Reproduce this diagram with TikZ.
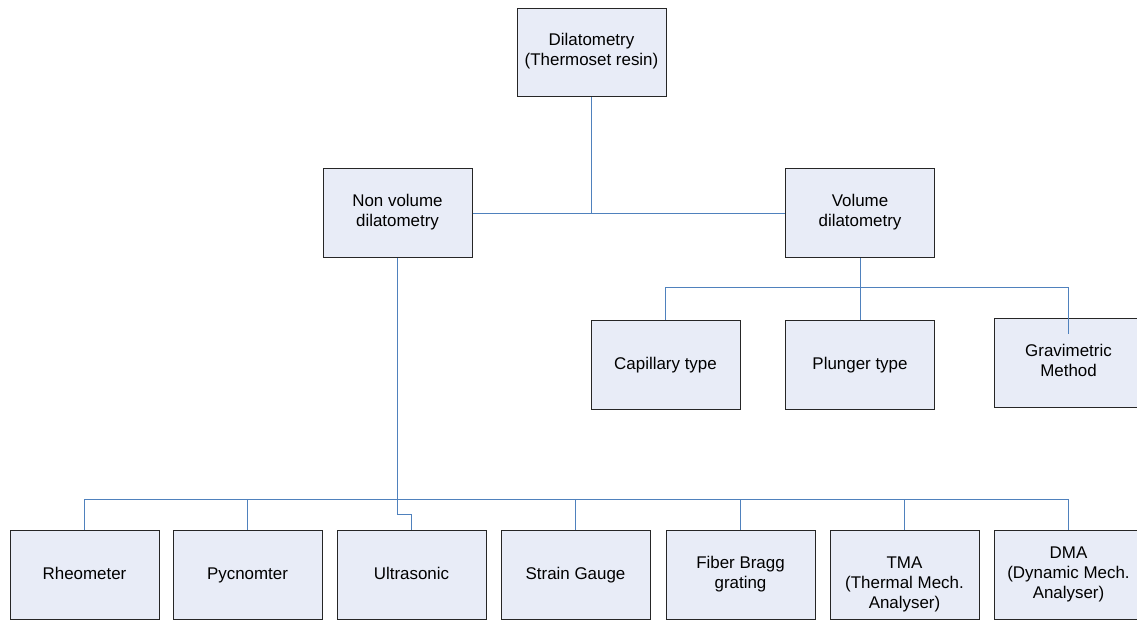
\documentclass[tikz,border=0pt]{standalone}
\usepackage{fontspec}
\setmainfont{Liberation Sans}
\usetikzlibrary{calc}
\definecolor{boxfill}{RGB}{232,236,247}
\definecolor{linkblue}{RGB}{79,129,189}
\tikzset{method/.style={rectangle,fill=boxfill,draw=black!85,line width=0.75pt,
minimum width=111.75pt, minimum height=67pt,inner sep=2pt,align=center,anchor=north,
font=\fontsize{12.7}{15}\selectfont,execute at begin node=\strut},
link/.style={color=linkblue,line width=0.75pt}}

\begin{document}
\begin{tikzpicture}[x=0.75pt,y=-0.75pt]
  \useasboundingbox (0,0) rectangle (1137,619);
  \node (top) [method,minimum height=66pt] at (591.5,8) {Dilatometry\\(Thermoset resin)};
  \node (nonvol) [method] at (397.5,168) {Non volume\\dilatometry};
  \node (vol) [method] at (860,168) {Volume\\dilatometry};
  \node (cap) [method] at (665.5,320) {Capillary type};
  \node (plu) [method] at (860,320) {Plunger type};
  \node (grav) [method] at (1068.5,318) {Gravimetric\\Method};
  \node (rheo) [method] at (84.5,530) {Rheometer};
  \node (pyc) [method] at (247.5,530) {Pycnomter};
  \node (ult) [method] at (411.5,530) {Ultrasonic};
  \node (sg) [method] at (575.5,530) {Strain Gauge};
  \node (fbg) [method] at (740.5,530) {Fiber Bragg\\grating};
  \node (tma) [method] at (904.5,530) {\rule{0pt}{24pt}TMA\\(Thermal Mech.\\Analyser)};
  \node (dma) [method] at (1068.5,530) {DMA\\(Dynamic Mech.\\Analyser)};
  \draw [link] (nonvol.east) -- (vol.west);
  \draw [link] (top.south) -- (top.south |- vol.west);
  \draw [link] (vol.south) -- ++(0,29) coordinate (vhub);
  \draw [link] (cap.north) |- (vhub) -| ([yshift=-12pt]grav.north);
  \draw [link] (vhub) -- (plu.north);
  \draw [link] (nonvol.south) -- ++(0,256) -| (ult.north);
  \coordinate (bus) at (398,499);
  \draw [link] (rheo.north) |- (bus) -| (dma.north);
  \foreach \n in {pyc,sg,fbg,tma}
    \draw [link] (\n.north) -- (\n.north |- bus);
\end{tikzpicture}
\end{document}
